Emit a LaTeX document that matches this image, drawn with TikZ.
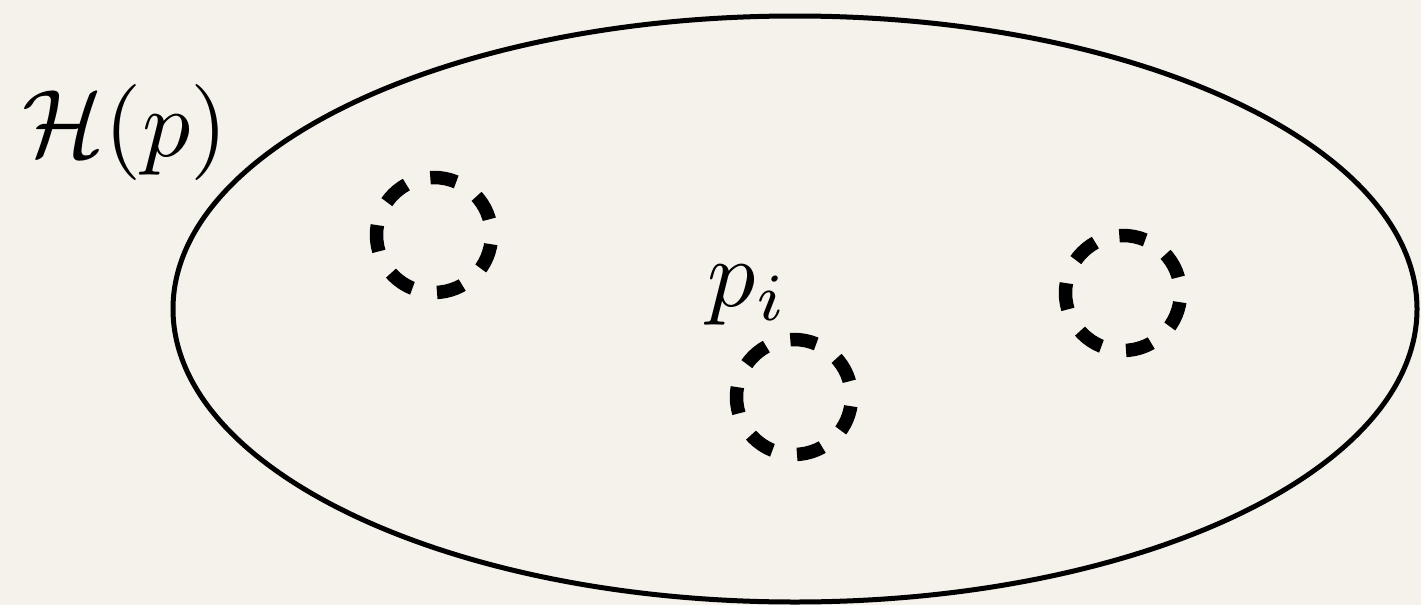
\documentclass[tikz,border=0pt]{standalone}
\usepackage{amsmath}
\definecolor{bgc}{RGB}{245,242,235}
\begin{document}
\begin{tikzpicture}[x=1pt,y=-1pt,
  dashcirc/.style={draw=black, line width=13.5pt, dash pattern=on 26.5pt off 25.1pt, dash phase=42.4pt},
  bigtext/.style={scale=9.6, inner sep=0pt}]
\fill[bgc] (0,0) rectangle (1421,605);
\useasboundingbox (0,0) rectangle (1421,605);
\draw[line width=5pt] (795,309) ellipse [x radius=622, y radius=293];
\node[bigtext, anchor=base west] (H) at (21,156) {$\mathcal{H}(p)$};
\node[bigtext, anchor=base west] (pi) at (706,306) {$p_i$};
\draw[dashcirc] (434,235) circle [radius=57.5];
\draw[dashcirc] (794,397) circle [radius=57.5];
\draw[dashcirc] (1123,293) circle [radius=57.5];
\end{tikzpicture}
\end{document}
